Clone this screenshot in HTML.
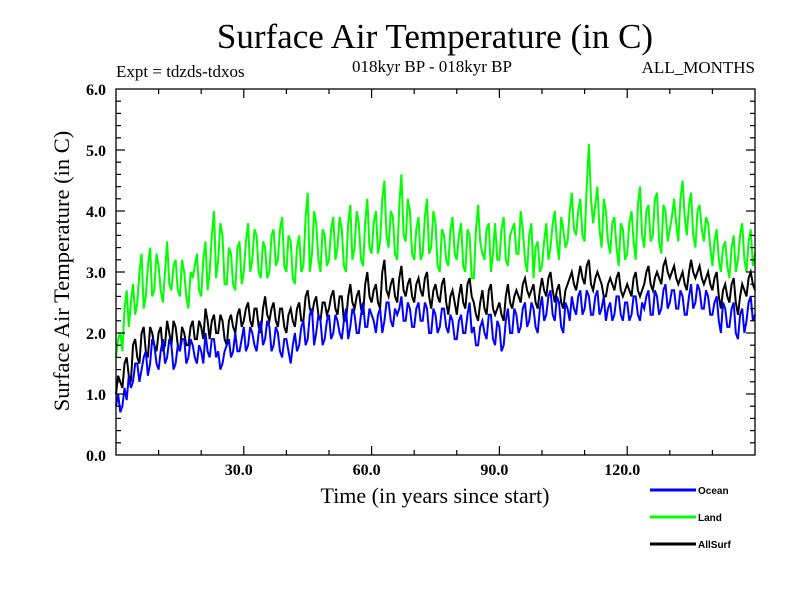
<!DOCTYPE html>
<html><head><meta charset="utf-8"><style>
body{margin:0;background:#fff;}
svg text{font-family:"Liberation Serif",serif;fill:#000;}
</style></head><body>
<svg id="chart" width="800" height="600" xmlns="http://www.w3.org/2000/svg">
<rect width="800" height="600" fill="#fff"/>
<text x="435" y="48" font-size="35" text-anchor="middle">Surface Air Temperature (in C)</text>
<text x="116" y="77" font-size="17">Expt = tdzds-tdxos</text>
<text x="432" y="72" font-size="17" text-anchor="middle">018kyr BP - 018kyr BP</text>
<text x="755" y="73" font-size="17" text-anchor="end">ALL_MONTHS</text>
<text x="435" y="503" font-size="22" text-anchor="middle">Time (in years since start)</text>
<text transform="translate(69,271) rotate(-90)" font-size="22.5" text-anchor="middle">Surface Air Temperature (in C)</text>
<g id="series"></g>
<g id="axes"></g>
<rect x="116" y="89" width="639" height="366" fill="none" stroke="#000" stroke-width="1.3"/>
<g>
<line x1="650" y1="490" x2="696" y2="490" stroke="#0000ff" stroke-width="3"/>
<text x="698" y="494" font-size="10" style="font-family:'Liberation Sans',sans-serif;font-weight:bold">Ocean</text>
<line x1="650" y1="517" x2="696" y2="517" stroke="#00ff00" stroke-width="3"/>
<text x="698" y="521" font-size="10" style="font-family:'Liberation Sans',sans-serif;font-weight:bold">Land</text>
<line x1="650" y1="544" x2="696" y2="544" stroke="#000" stroke-width="3"/>
<text x="698" y="548" font-size="10" style="font-family:'Liberation Sans',sans-serif;font-weight:bold">AllSurf</text>
</g>
</svg>
<script>
const ocean=[0.8,0.7,1.1,1.3,1.2,1.5,1.4,1.7,1.5,1.8,
1.4,1.9,1.6,1.8,1.5,1.7,1.9,1.6,1.8,1.5,
1.7,2.0,1.6,1.9,1.7,1.5,1.8,1.6,2.0,1.7,
2.1,1.8,2.0,1.7,2.2,1.9,2.1,1.8,2.0,1.6,
1.9,1.5,2.0,1.8,2.2,1.9,2.4,2.0,2.2,1.9,
2.3,2.0,2.2,1.9,2.4,2.1,2.3,2.0,2.5,2.1,
2.3,2.0,2.4,2.2,2.5,2.1,2.3,2.6,2.2,2.4,
2.1,2.5,2.2,2.4,2.0,2.3,2.1,2.4,2.0,2.2,
1.9,2.3,2.0,2.5,2.1,1.8,2.2,1.9,2.3,1.8,
2.1,1.8,2.4,2.0,2.3,2.1,2.5,2.2,2.4,2.0,
2.6,2.3,2.7,2.2,2.5,2.0,2.4,2.6,2.3,2.7,
2.4,2.6,2.3,2.7,2.4,2.2,2.5,2.3,2.6,2.2,
2.5,2.3,2.6,2.2,2.4,2.7,2.3,2.6,2.4,2.8,
2.5,2.7,2.4,2.6,2.3,2.8,2.5,2.7,2.4,2.6,
2.3,2.6,2.0,2.4,2.1,2.5,1.9,2.4,2.2,2.6,2.3];
const oceanMid=[1.0,0.8,0.9,1.1,1.5,1.2,1.6,1.3,1.9,1.5,
1.7,1.5,1.9,1.4,1.8,1.9,1.5,1.9,1.6,1.8,
1.5,1.7,1.9,1.6,1.4,1.7,1.9,1.7,1.7,1.9,
1.7,2.1,1.8,2.0,1.8,2.2,1.7,2.1,1.7,1.9,
1.7,1.8,1.7,2.1,1.8,2.3,1.8,2.3,1.8,2.2,
1.9,2.3,2.0,2.2,1.9,2.4,2.0,2.3,2.1,2.4,
2.2,2.3,2.0,2.5,2.2,2.4,2.4,2.2,2.5,2.1,
2.4,2.2,2.5,2.0,2.4,2.0,2.4,2.1,2.3,1.9,
2.2,2.0,2.3,2.0,1.8,2.1,2.0,2.3,1.9,2.2,
1.7,2.2,2.0,2.4,2.0,2.4,2.1,2.5,2.1,2.4,
2.2,2.6,2.3,2.6,2.1,2.5,2.2,2.4,2.6,2.3,
2.7,2.3,2.6,2.3,2.6,2.4,2.2,2.6,2.3,2.5,
2.2,2.6,2.3,2.5,2.6,2.3,2.7,2.3,2.7,2.4,
2.7,2.4,2.7,2.3,2.6,2.4,2.8,2.4,2.7,2.3,
2.5,2.2,2.5,2.1,2.4,2.0,2.3,2.0,2.5,2.2];
const land=[1.6,2.0,2.4,2.1,2.8,2.5,3.3,2.6,3.4,2.7,
3.1,2.5,3.5,2.7,3.2,2.6,3.0,2.4,2.9,3.3,
2.6,3.5,3.0,4.0,3.2,3.6,2.8,3.3,2.7,3.5,
3.0,3.8,3.2,3.6,2.9,3.4,3.0,3.7,3.2,3.9,
3.0,3.5,2.8,3.6,3.1,4.3,3.3,3.8,3.0,3.6,
3.2,3.9,3.4,3.7,3.0,4.1,3.4,3.8,3.1,4.2,
3.3,4.0,3.5,4.5,3.4,3.9,3.2,4.6,3.5,4.0,
3.2,3.9,3.3,4.2,3.4,3.8,3.0,3.6,3.1,3.9,
3.2,3.8,3.0,3.6,2.9,4.1,3.3,3.7,3.0,3.8,
3.2,3.9,3.1,3.7,3.3,4.0,3.2,3.6,2.9,3.5,
3.1,3.8,3.4,4.0,3.2,3.7,3.5,4.3,3.6,4.2,
3.5,5.1,3.8,4.4,3.4,4.0,3.3,3.9,3.1,3.7,
3.3,4.0,3.2,4.4,3.4,4.1,3.6,4.3,3.3,4.0,
3.7,4.2,3.5,4.5,3.6,4.3,3.4,4.1,3.5,3.8,
3.1,3.7,3.0,3.5,2.9,3.6,3.2,3.8,3.0,3.7,3.3];
const landMid=[1.9,1.7,2.7,2.5,2.3,3.0,2.4,3.1,2.6,3.3,
2.7,3.0,2.8,3.1,2.7,3.2,2.6,3.0,3.1,2.7,
3.2,2.7,3.6,2.9,3.8,2.8,3.4,2.8,3.4,2.8,
3.5,3.0,3.7,3.0,3.5,2.9,3.6,3.1,3.7,3.1,
3.6,2.9,3.4,3.0,3.9,3.0,4.0,3.2,3.7,3.1,
3.7,3.2,3.9,3.1,3.8,3.2,4.0,3.2,3.8,3.4,
3.8,3.3,4.2,3.6,4.0,3.3,4.1,3.6,4.2,3.3,
3.7,3.2,3.9,3.3,4.0,3.1,3.7,3.2,3.7,3.3,
3.6,3.1,3.7,2.9,3.7,3.5,3.2,3.8,3.3,3.2,
3.7,3.2,3.6,3.8,3.3,3.7,3.0,3.8,3.4,3.0,
3.5,3.2,3.8,3.5,3.9,3.4,4.0,3.7,4.0,3.6,
4.4,4.2,4.1,3.7,4.2,3.5,3.8,3.4,3.8,3.2,
3.8,3.5,4.1,3.6,4.0,3.5,4.2,3.5,4.1,3.5,
3.9,3.8,4.2,3.9,4.1,3.6,4.0,3.7,3.9,3.4,
3.5,3.2,3.4,3.1,3.4,3.0,3.6,3.2,3.5,3.1];
const allsurf=[1.0,1.2,1.5,1.3,1.8,1.6,2.0,1.7,2.1,1.8,
2.0,1.7,2.2,1.8,2.1,1.7,2.0,1.8,2.2,1.9,
2.1,2.4,1.9,2.3,2.0,2.2,1.8,2.3,2.0,2.4,
2.2,2.5,2.1,2.4,2.0,2.6,2.2,2.5,2.1,2.4,
2.0,2.4,2.1,2.5,2.2,2.7,2.3,2.6,2.2,2.5,
2.4,2.7,2.3,2.6,2.2,2.8,2.4,2.7,2.3,3.0,
2.5,2.8,2.4,3.2,2.6,2.9,2.5,3.1,2.6,2.9,
2.5,2.9,2.6,3.0,2.4,2.8,2.5,2.9,2.3,2.7,
2.3,2.8,2.4,2.9,2.5,2.2,2.7,2.3,2.8,2.3,
2.5,2.2,2.8,2.4,2.7,2.5,2.9,2.6,2.8,2.4,
2.9,2.6,3.0,2.5,2.8,2.4,2.8,3.0,2.7,3.1,
2.8,3.2,2.7,3.0,2.8,2.6,2.9,2.7,3.0,2.6,
2.8,2.6,3.0,2.6,2.8,3.1,2.7,3.0,2.8,3.2,
2.9,3.1,2.8,3.0,2.7,3.2,2.9,3.1,2.8,3.0,
2.7,3.0,2.4,2.8,2.5,2.9,2.3,2.8,2.6,3.0,2.7];
const allsurfMid=[1.3,1.1,1.6,1.2,1.9,1.5,2.1,1.6,2.0,1.7,
2.1,1.8,2.0,2.2,1.8,2.1,1.8,2.1,1.9,2.2,
1.9,2.2,2.2,2.0,2.3,1.9,2.2,2.1,2.3,2.1,
2.4,2.2,2.4,2.1,2.4,2.3,2.4,2.2,2.4,2.1,
2.3,2.2,2.4,2.2,2.6,2.4,2.5,2.3,2.5,2.3,
2.6,2.4,2.6,2.2,2.6,2.5,2.6,2.4,2.8,2.6,
2.7,2.5,3.0,2.7,2.8,2.6,2.9,2.7,2.8,2.6,
2.8,2.7,2.9,2.6,2.7,2.6,2.8,2.5,2.6,2.5,
2.6,2.5,2.8,2.6,2.3,2.5,2.4,2.7,2.4,2.4,
2.3,2.6,2.5,2.6,2.6,2.8,2.7,2.7,2.5,2.7,
2.7,2.9,2.7,2.7,2.5,2.7,2.9,2.8,2.9,2.9,
3.1,2.8,2.9,2.9,2.6,2.8,2.8,2.9,2.7,2.7,
2.7,2.9,2.7,2.7,3.0,2.8,2.9,2.9,3.1,3.0,
3.0,2.9,2.9,2.8,3.0,3.0,3.0,2.9,2.9,2.8,
2.9,2.6,2.7,2.6,2.8,2.5,2.6,2.7,2.9,2.8];
const xTickLabels=["30.0","60.0","90.0","120.0"];
const yTickLabels=["0.0","1.0","2.0","3.0","4.0","5.0","6.0"];

const X0=116,X1=755,Y0=455,Y1=89,XMIN=0,XMAX=150,YMIN=0,YMAX=6;
const sx=v=>X0+(v-XMIN)/(XMAX-XMIN)*(X1-X0);
const sy=v=>Y0-(v-YMIN)/(YMAX-YMIN)*(Y0-Y1);
const NS="http://www.w3.org/2000/svg";
const sg=document.getElementById('series');
function draw(arr,mid,color,name){
  const n=arr.length;const step=(XMAX-XMIN)/(n-1);
  const pts=[];
  for(let i=0;i<n;i++){
    pts.push(sx(XMIN+i*step).toFixed(1)+','+sy(arr[i]).toFixed(1));
    if(i<n-1&&i<mid.length) pts.push(sx(XMIN+(i+0.5)*step).toFixed(1)+','+sy(mid[i]).toFixed(1));
  }
  const p=document.createElementNS(NS,'polyline');
  p.setAttribute('points',pts.join(' '));
  p.setAttribute('fill','none');
  p.setAttribute('stroke',color);
  p.setAttribute('stroke-width','2');
  p.setAttribute('stroke-linejoin','miter');
  
  
  sg.appendChild(p);
}
draw(land,landMid,'#00ff00','land-line');
draw(allsurf,allsurfMid,'#000000','allsurf-line');
draw(ocean,oceanMid,'#0000ff','ocean-line');

const ax=document.getElementById('axes');
function line(x1,y1,x2,y2,name){
  const l=document.createElementNS(NS,'line');
  l.setAttribute('x1',x1);l.setAttribute('y1',y1);l.setAttribute('x2',x2);l.setAttribute('y2',y2);
  l.setAttribute('stroke','#000');l.setAttribute('stroke-width','1.2');
  
  
  ax.appendChild(l);
}
function text(x,y,s,anchor,name){
  const t=document.createElementNS(NS,'text');
  t.setAttribute('x',x);t.setAttribute('y',y);t.setAttribute('font-size','16');
  t.setAttribute('font-weight','bold');
  t.setAttribute('text-anchor',anchor);t.textContent=s;
  
  
  ax.appendChild(t);
}
for(let v=10;v<XMAX;v+=10){
  const len=(v%30===0)?9:5;const x=sx(v);
  line(x,Y0,x,Y0-len,'x-tick');
  line(x,Y1,x,Y1+len,'x-tick-top');
}
xTickLabels.forEach(s=>{text(sx(parseFloat(s))-5,475,s,'middle','x-tick-label');});
for(let k=1;k<30;k++){
  const v=k*0.2;const len=(k%5===0)?9:5;const y=sy(v);
  line(X0,y,X0+len,y,'y-tick');
  line(X1,y,X1-len,y,'y-tick-right');
}
yTickLabels.forEach(s=>{text(106,sy(parseFloat(s))+6,s,'end','y-tick-label');});
</script>
</body></html>
